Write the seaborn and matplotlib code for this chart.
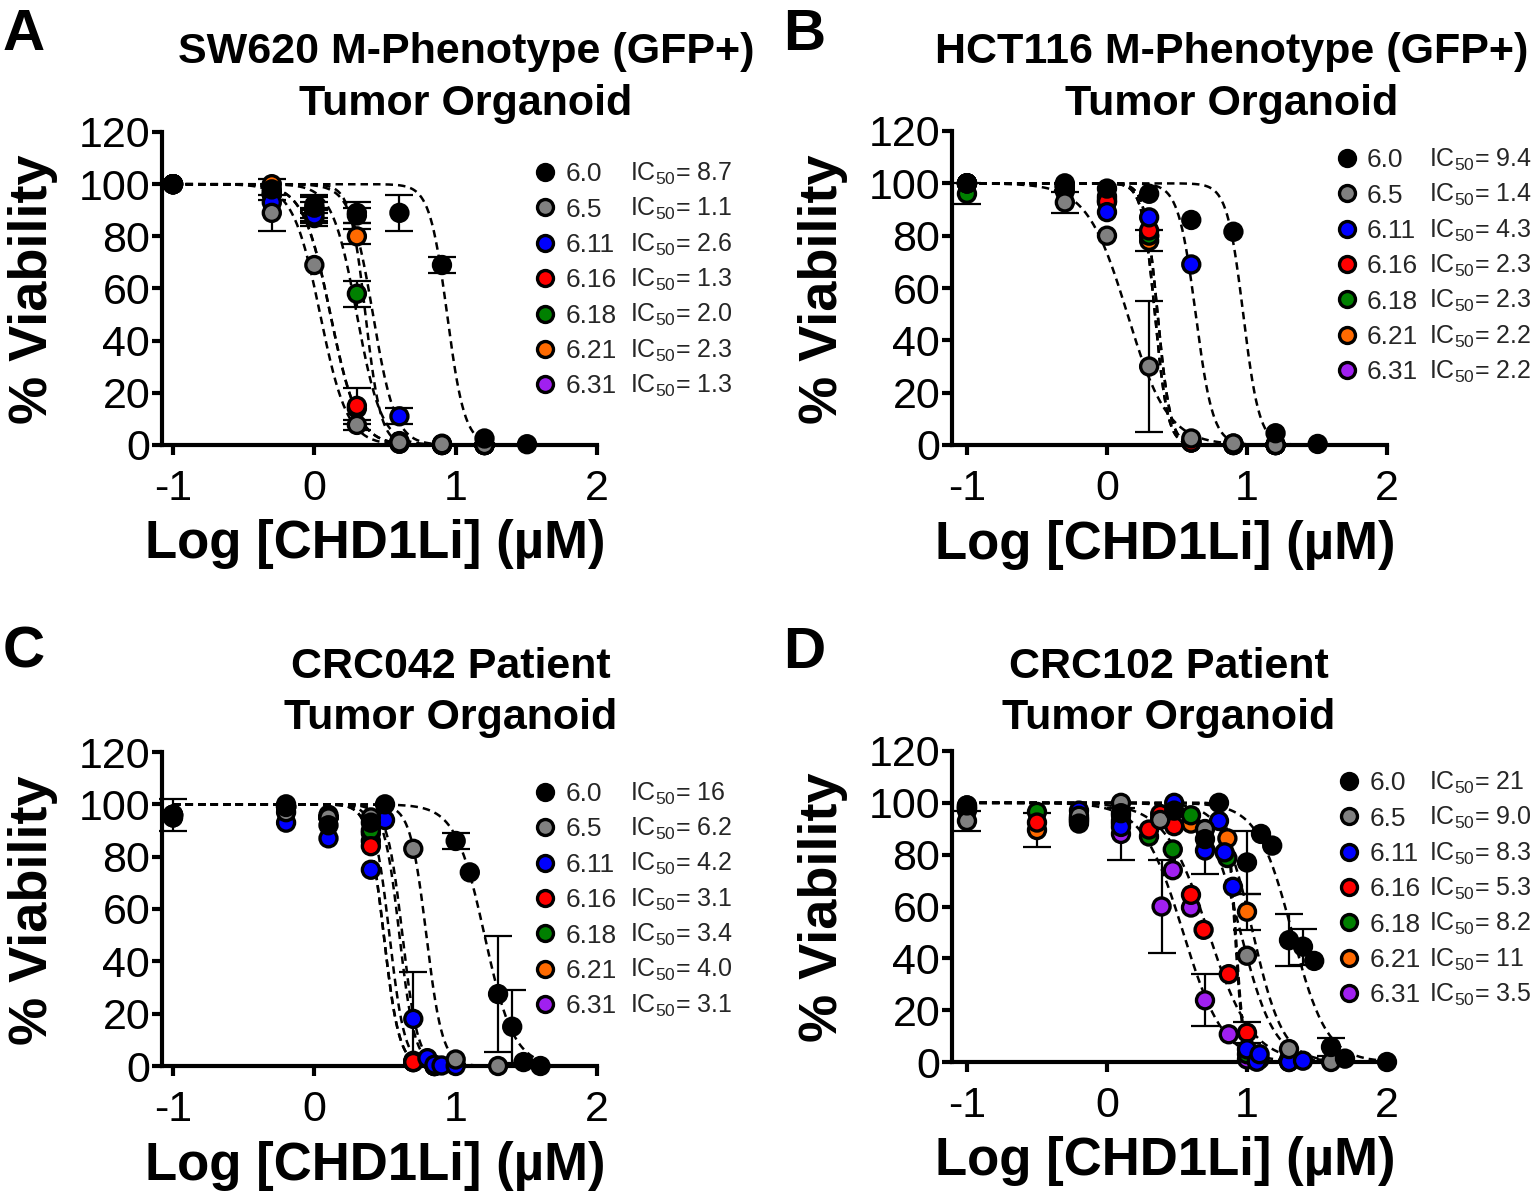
import numpy as np
import pandas as pd
import matplotlib
matplotlib.use("Agg")
import matplotlib.pyplot as plt
import seaborn as sns
from matplotlib import font_manager
from matplotlib.lines import Line2D

# ---------------- data ----------------
lines_lbl = ["6.0", "6.5", "6.11", "6.16", "6.18", "6.21", "6.31"]
face_colors = ["#000000", "#808080", "#0000ff", "#ff0000", "#008000", "#ff6a00", "#a020f0"]

# Panel A: SW620 M-Phenotype (GFP+)
A_x8 = [-1, -0.301, 0, 0.301, 0.602, 0.903, 1.204, 1.505]
A_x7 = [-1, -0.301, 0, 0.301, 0.602, 0.903, 1.204]
A_60_y = [100, 98, 91, 89, 89, 69, 2.5, 0.3]
A_60_e = [0, 4, 5, 4, 7, 3, 0, 0]
A_65_y = [100, 89, 69, 7.7, 1, 0.3, 0]
A_65_e = [0, 7, 0, 2, 0, 0, 0]
A_611_y = [100, 93, 88, 88, 11, 0.5, 0]
A_611_e = [0, 0, 3, 3, 3, 0, 0]
A_616_y = [100, 97, 87, 15, 0.5, 0, 0]
A_616_e = [0, 0, 3, 7, 0, 0, 0]
A_618_y = [100, 96, 92, 58, 1, 0, 0]
A_618_e = [0, 0, 3, 5, 0, 0, 0]
A_621_y = [100, 100, 90, 80, 1.5, 0, 0]
A_621_e = [0, 0, 3, 3, 0, 0, 0]
A_631_y = [100, 96, 89, 14, 0.5, 0, 0]
A_631_e = [0, 0, 0, 0, 0, 0, 0]
A_ic50 = ["8.7", "1.1", "2.6", "1.3", "2.0", "2.3", "1.3"]
A_hill = [7, 4.5, 5.5, 4.5, 5, 8, 4.5]

# Panel B: HCT116 M-Phenotype (GFP+)
B_x8 = [-1, -0.301, 0, 0.301, 0.602, 0.903, 1.204, 1.505]
B_x7 = [-1, -0.301, 0, 0.301, 0.602, 0.903, 1.204]
B_60_y = [100, 100, 98, 96, 86, 81.5, 4.5, 0.4]
B_60_e = [0, 0, 0, 0, 0, 0, 0, 0]
B_65_y = [100, 92.7, 80, 30, 2.5, 0.6, 0]
B_65_e = [0, 4, 0, 25, 0, 0, 0]
B_611_y = [100, 99, 89, 87, 69, 0.5, 0]
B_611_e = [0, 0, 0, 0, 0, 0, 0]
B_616_y = [100, 99, 93, 82, 1, 0, 0]
B_616_e = [0, 0, 0, 0, 0, 0, 0]
B_618_y = [96, 99, 95, 80, 1, 0, 0]
B_618_e = [4, 0, 0, 0, 0, 0, 0]
B_621_y = [100, 98, 93, 78, 1, 0, 0]
B_621_e = [0, 0, 0, 4, 0, 0, 0]
B_631_y = [100, 97, 94, 80, 1, 0, 0]
B_631_e = [0, 0, 0, 0, 0, 0, 0]
B_ic50 = ["9.4", "1.4", "4.3", "2.3", "2.3", "2.2", "2.2"]
B_hill = [7.5, 3, 7, 9.5, 9.5, 9.5, 9.5]

# Panel C: CRC042 patient tumor organoid
C_60_x = [-1, -0.2, 0.1, 0.4, 0.5, 1.0, 1.1, 1.3, 1.4, 1.48, 1.6]
C_60_y = [96, 99, 92, 93, 100, 86, 74, 27.5, 15, 1.5, 0]
C_60_e = [6, 0, 0, 0, 0, 3, 0, 22, 14, 0, 0]
C_65_x = [-1, -0.2, 0.1, 0.4, 0.7, 1.0, 1.3]
C_65_y = [95, 97, 95, 95, 83, 2.5, 0]
C_65_e = [0, 0, 0, 0, 0, 0, 0]
C_611_x = [-1, -0.2, 0.1, 0.4, 0.5, 0.7, 0.8, 0.85, 0.9, 1.0]
C_611_y = [95, 93, 87, 75, 94, 18, 3, 0.5, 0.2, 0]
C_611_e = [0, 0, 0, 0, 0, 18, 0, 0, 0, 0]
C_616_x = [-1, -0.2, 0.1, 0.4, 0.7, 0.85]
C_616_y = [96, 99, 95, 84, 1.5, 0]
C_616_e = [0, 0, 0, 0, 0, 0]
C_618_x = [-1, -0.2, 0.1, 0.4, 0.7, 0.85]
C_618_y = [96, 100, 96, 90, 1.5, 0]
C_618_e = [0, 0, 0, 0, 0, 0]
C_621_x = [-1, -0.2, 0.1, 0.4, 0.7, 0.85]
C_621_y = [96, 99, 95, 89, 2, 0]
C_621_e = [0, 0, 0, 0, 0, 0]
C_631_x = [-1, -0.2, 0.1, 0.4, 0.7, 0.85]
C_631_y = [96, 99, 95, 86, 1.5, 0]
C_631_e = [0, 0, 0, 0, 0, 0]
C_ic50 = ["16", "6.2", "4.2", "3.1", "3.4", "4.0", "3.1"]
C_hill = [4.2, 7.6, 8, 8, 8, 8, 8]

# Panel D: CRC102 patient tumor organoid
D_60_x = [-1, -0.2, 0.1, 0.48, 0.7, 0.8, 1.0, 1.1, 1.18, 1.3, 1.4, 1.48, 1.6, 1.7, 2.0]
D_60_y = [99, 92, 96, 97, 86, 100, 77, 88, 83.5, 47, 44.5, 39, 5.8, 1.3, 0]
D_60_e = [0, 0, 0, 0, 0, 0, 12, 0, 0, 10, 7, 0, 3.5, 0, 0]
D_65_x = [-1, -0.2, 0.1, 0.38, 0.7, 1.0, 1.3, 1.6]
D_65_y = [93, 95, 100, 93.4, 89.9, 41, 5, 0]
D_65_e = [4, 0, 0, 0, 0, 0, 0, 0]
D_611_x = [-1, -0.2, 0.1, 0.48, 0.7, 0.8, 0.84, 0.9, 1.0, 1.07, 1.09, 1.3, 1.4]
D_611_y = [99, 97, 90.7, 100, 81.6, 93, 80.9, 67.6, 4.9, 0.1, 3, 0, 0.5]
D_611_e = [0, 0, 0, 0, 9, 0, 0, 0, 0, 0, 0, 0, 0]
D_616_x = [-1, -0.5, -0.2, 0.1, 0.3, 0.38, 0.48, 0.6, 0.69, 0.87, 1.0, 1.09]
D_616_y = [97, 92.4, 93, 95.2, 89.7, 95.7, 91, 64.5, 51, 33.9, 11.3, 1]
D_616_e = [0, 0, 0, 0, 0, 0, 0, 0, 0, 0, 4, 0]
D_618_x = [-1, -0.5, -0.2, 0.1, 0.3, 0.47, 0.6, 0.86, 1.0, 1.3]
D_618_y = [98, 96.5, 94, 93, 87, 82, 95.2, 78.7, 3, 0]
D_618_e = [0, 0, 0, 0, 0, 0, 0, 0, 0, 0]
D_621_x = [-1, -0.5, -0.2, 0.1, 0.38, 0.6, 0.86, 1.0, 1.3]
D_621_y = [98, 89.5, 93, 92, 94, 92, 86.3, 58, 1]
D_621_e = [0, 6.5, 0, 0, 0, 0, 0, 7, 0]
D_631_x = [-1, -0.2, 0.1, 0.39, 0.47, 0.6, 0.7, 0.87, 1.0]
D_631_y = [98, 94, 88, 60, 74, 59.6, 23.8, 10.7, 1]
D_631_e = [0, 0, 10, 18, 0, 0, 10, 0, 0]
D_ic50 = ["21", "9.0", "8.3", "5.3", "8.2", "11", "3.5"]
D_hill = [3.5, 3.6, 15, 2.8, 15, 4, 3]

titles = [("SW620 M-Phenotype (GFP+)", "Tumor Organoid"),
          ("HCT116 M-Phenotype (GFP+)", "Tumor Organoid"),
          ("CRC042 Patient", "Tumor Organoid"),
          ("CRC102 Patient", "Tumor Organoid")]
panel_letters = ["A", "B", "C", "D"]
x_ticks = [-1, 0, 1, 2]
x_ticklabels = ["-1", "0", "1", "2"]
y_ticks = [0, 20, 40, 60, 80, 100, 120]
y_ticklabels = ["0", "20", "40", "60", "80", "100", "120"]
x_label = "Log [CHD1Li] (µM)"
y_label = "% Viability"

# ---------------- style ----------------
sns.set_theme(style="ticks")
plt.rcParams["font.family"] = ["Liberation Sans", "DejaVu Sans"]
plt.rcParams["mathtext.fontset"] = "custom"
plt.rcParams["mathtext.rm"] = "Liberation Sans"
plt.rcParams["mathtext.it"] = "Liberation Sans:italic"
plt.rcParams["mathtext.bf"] = "Liberation Sans:bold"
plt.rcParams["axes.facecolor"] = "white"
plt.rcParams["figure.facecolor"] = "white"

_names = {f.name for f in font_manager.fontManager.ttflist}
tick_family = "Liberation Sans Narrow" if "Liberation Sans Narrow" in _names else "Liberation Sans"
tick_size = 34 if tick_family == "Liberation Sans Narrow" else 31

W, H = 1536, 1192
fig = plt.figure(figsize=(W / 100, H / 100), dpi=100)


def px_axes(left, right, top, bottom):
    return [left / W, 1 - bottom / H, (right - left) / W, (bottom - top) / H]


panels = [
    dict(rect=px_axes(162, 597, 132, 445), xmin=-1.078, xmax_curve=1.505,
         xs=[A_x8, A_x7, A_x7, A_x7, A_x7, A_x7, A_x7],
         ys=[A_60_y, A_65_y, A_611_y, A_616_y, A_618_y, A_621_y, A_631_y],
         es=[A_60_e, A_65_e, A_611_e, A_616_e, A_618_e, A_621_e, A_631_e],
         ic=A_ic50, hill=A_hill, leg=(0.862, 0.903), icx=1.076),
    dict(rect=px_axes(952, 1387, 131, 445), xmin=-1.107, xmax_curve=1.505,
         xs=[B_x8, B_x7, B_x7, B_x7, B_x7, B_x7, B_x7],
         ys=[B_60_y, B_65_y, B_611_y, B_616_y, B_618_y, B_621_y, B_631_y],
         es=[B_60_e, B_65_e, B_611_e, B_616_e, B_618_e, B_621_e, B_631_e],
         ic=B_ic50, hill=B_hill, leg=(0.888, 0.945), icx=1.097),
    dict(rect=px_axes(162, 597, 752, 1066), xmin=-1.078, xmax_curve=1.6,
         xs=[C_60_x, C_65_x, C_611_x, C_616_x, C_618_x, C_621_x, C_631_x],
         ys=[C_60_y, C_65_y, C_611_y, C_616_y, C_618_y, C_621_y, C_631_y],
         es=[C_60_e, C_65_e, C_611_e, C_616_e, C_618_e, C_621_e, C_631_e],
         ic=C_ic50, hill=C_hill, leg=(0.862, 0.904), icx=1.076),
    dict(rect=px_axes(952, 1387, 751, 1062), xmin=-1.107, xmax_curve=2.0,
         xs=[D_60_x, D_65_x, D_611_x, D_616_x, D_618_x, D_621_x, D_631_x],
         ys=[D_60_y, D_65_y, D_611_y, D_616_y, D_618_y, D_621_y, D_631_y],
         es=[D_60_e, D_65_e, D_611_e, D_616_e, D_618_e, D_621_e, D_631_e],
         ic=D_ic50, hill=D_hill, leg=(0.894, 0.935), icx=1.097),
]

title_pos = [(466, 63, 115), (1232, 63, 115), (451, 678, 729), (1169, 678, 729)]
letter_pos = [(3, 50), (783, 50), (3, 668), (783, 668)]

palette = dict(zip(lines_lbl, face_colors))
leg_fs = 19
ic_fs = 18

for p_i, P in enumerate(panels):
    ax = fig.add_axes(P["rect"])

    # fitted dose-response curves (top 100, bottom 0, IC50 from legend)
    xc = np.linspace(-1, P["xmax_curve"], 400)
    curve_rows = []
    for name, ic, h in zip(lines_lbl, P["ic"], P["hill"]):
        yc = 100.0 / (1.0 + 10 ** (h * (xc - np.log10(float(ic)))))
        curve_rows.append(pd.DataFrame({"x": xc, "y": yc, "series": name}))
    curve_df = pd.concat(curve_rows, ignore_index=True)
    sns.lineplot(data=curve_df, x="x", y="y", units="series", estimator=None,
                 color="black", linestyle=(0, (3, 2)), linewidth=1.8, ax=ax,
                 zorder=2, legend=False)

    # data points; first series drawn last (on top)
    pt_rows = []
    for name, xs, ys, es in zip(lines_lbl, P["xs"], P["ys"], P["es"]):
        pt_rows.append(pd.DataFrame({"x": xs, "y": ys, "err": es, "series": name}))
    pts = pd.concat(pt_rows[::-1], ignore_index=True)

    eb = pts[pts["err"] > 0]
    ax.errorbar(eb["x"], eb["y"], yerr=eb["err"], fmt="none", ecolor="black",
                elinewidth=1.6, capsize=10, capthick=1.6, zorder=3, clip_on=False)
    sns.scatterplot(data=pts, x="x", y="y", hue="series", palette=palette,
                    s=150, edgecolor="black", linewidth=2.4, ax=ax, zorder=5,
                    legend=False, clip_on=False)

    # axes styling
    ax.set_xlim(P["xmin"], 2.0)
    ax.set_ylim(0, 120)
    ax.set_xticks(x_ticks, labels=x_ticklabels, fontsize=tick_size, fontfamily=tick_family)
    ax.set_yticks(y_ticks, labels=y_ticklabels, fontsize=tick_size, fontfamily=tick_family)
    sns.despine(ax=ax)
    for sp in ("left", "bottom"):
        ax.spines[sp].set_linewidth(3)
        ax.spines[sp].set_color("black")
    ax.tick_params(axis="both", width=3, length=7, color="black", labelcolor="black")
    ax.tick_params(axis="x", pad=10)
    ax.tick_params(axis="y", pad=1.5)
    ax.grid(False)

    ax.set_xlabel(x_label, fontsize=38, fontweight="bold", color="black")
    ax.set_ylabel(y_label, fontsize=39, fontweight="bold", color="black")
    ax.xaxis.set_label_coords(0.49, -0.238)
    ax.yaxis.set_label_coords(-0.24, 0.497)

    # legend (strain names) + IC50 column
    handles = [Line2D([], [], marker="o", linestyle="", markerfacecolor=c,
                      markeredgecolor="black", markersize=11.5, markeredgewidth=2.4)
               for c in face_colors]
    leg = ax.legend(handles, lines_lbl, loc="upper left", bbox_to_anchor=P["leg"],
                    borderaxespad=0, borderpad=0, frameon=False, handlelength=0.63,
                    handletextpad=0.45, labelspacing=0.43,
                    prop={"family": "Liberation Sans", "size": leg_fs},
                    labelcolor="#262626")
    leg.set_zorder(6)
    for t, ic in zip(leg.get_texts(), P["ic"]):
        ax.annotate(r"IC$_{\mathregular{50}}$= " + ic, xy=(P["icx"], 0),
                    xycoords=(ax.transAxes, t), xytext=(0, 0.212 * leg_fs),
                    textcoords="offset points", ha="left", va="baseline",
                    fontsize=ic_fs, color="#262626", annotation_clip=False,
                    zorder=20)

    # titles and panel letters
    cx, b1, b2 = title_pos[p_i]
    fig.text(cx / W, 1 - b1 / H, titles[p_i][0], ha="center", va="baseline",
             fontsize=31, fontweight="bold", color="black")
    fig.text(cx / W, 1 - b2 / H, titles[p_i][1], ha="center", va="baseline",
             fontsize=31, fontweight="bold", color="black")
    lx, lb = letter_pos[p_i]
    fig.text(lx / W, 1 - lb / H, panel_letters[p_i], ha="left", va="baseline",
             fontsize=42, fontweight="bold", color="black")

fig.canvas.draw()
fig.savefig("out.png", dpi=100)
